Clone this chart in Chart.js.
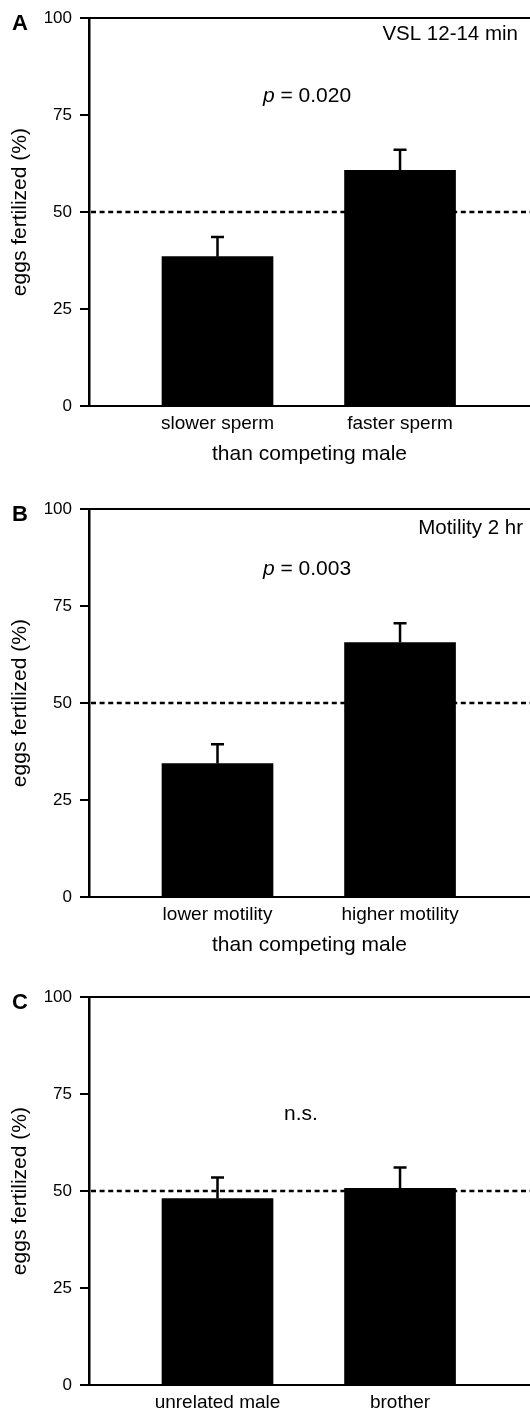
<!DOCTYPE html>
<html>
<head>
<meta charset="utf-8">
<script src="https://cdn.jsdelivr.net/npm/chart.js@4.4.0/dist/chart.umd.min.js"></script>
<style>
  html, body { margin: 0; padding: 0; background: #fff; }
  #wrap { position: relative; width: 530px; height: 1411px; overflow: hidden; }
  canvas { position: absolute; left: 0; }
</style>
</head>
<body>
<div id="wrap">
  <canvas id="panelA" width="530" height="490" style="top:0px"></canvas>
  <canvas id="panelB" width="530" height="490" style="top:491px"></canvas>
  <canvas id="panelC" width="530" height="490" style="top:979px"></canvas>
</div>
<script>
// y axis and reference line
const yTicks = [0, 25, 50, 75, 100];
const chanceLevel = 50;

// panel A
const categoriesA = ['slower sperm', 'faster sperm'];
const meansA = [38.5, 60.8];
const semA = [5.1, 5.3];

// panel B
const categoriesB = ['lower motility', 'higher motility'];
const meansB = [34.4, 65.6];
const semB = [5.0, 5.0];

// panel C
const categoriesC = ['unrelated male', 'brother'];
const meansC = [48.1, 50.7];
const semC = [5.4, 5.4];

const FONT = "'Liberation Sans', Arial, Helvetica, sans-serif";
Chart.defaults.font.family = FONT;
Chart.defaults.color = '#000';

const panels = [
    {id: 'panelA', letter: 'A', categories: categoriesA, means: meansA, sem: semA,
     note: 'VSL 12-14 min', noteX: 518, noteY: 22,
     statItalic: 'p', statText: ' = 0.020', statX: 218, statY: 84,
     xTitle: 'than competing male'},
    {id: 'panelB', letter: 'B', categories: categoriesB, means: meansB, sem: semB,
     note: 'Motility 2 hr', noteX: 523, noteY: 25,
     statItalic: 'p', statText: ' = 0.003', statX: 218, statY: 66,
     xTitle: 'than competing male'},
    {id: 'panelC', letter: 'C', categories: categoriesC, means: meansC, sem: semC,
     note: '', noteX: 0, noteY: 0,
     statItalic: '', statText: 'n.s.', statX: 212, statY: 123,
     xTitle: ''}
];

function makeDecor(p) {
    return {
        id: 'decor' + p.letter,
        beforeDatasetsDraw(chart) {
            const {ctx, chartArea, scales: {y}} = chart;
            const yy = y.getPixelForValue(chanceLevel);
            ctx.save();
            ctx.strokeStyle = '#000';
            ctx.lineWidth = 2.5;
            ctx.setLineDash([5, 3.6]);
            ctx.beginPath();
            ctx.moveTo(chartArea.left + 2, yy);
            ctx.lineTo(chartArea.right, yy);
            ctx.stroke();
            ctx.restore();
        },
        afterDatasetsDraw(chart) {
            const {ctx, chartArea, scales: {x, y}} = chart;
            ctx.save();
            // error bars (upper only)
            ctx.strokeStyle = '#000';
            ctx.lineWidth = 2.5;
            p.means.forEach((m, i) => {
                const px = x.getPixelForValue(i);
                const y0 = y.getPixelForValue(m);
                const y1 = y.getPixelForValue(m + p.sem[i]);
                ctx.beginPath();
                ctx.moveTo(px, y0);
                ctx.lineTo(px, y1);
                ctx.moveTo(px - 6.5, y1);
                ctx.lineTo(px + 6.5, y1);
                ctx.stroke();
            });
            ctx.fillStyle = '#000';
            // panel letter
            ctx.font = 'bold 22px ' + FONT;
            ctx.textAlign = 'left';
            ctx.textBaseline = 'alphabetic';
            ctx.fillText(p.letter, 12, chartArea.top + 12);
            // condition note
            if (p.note) {
                ctx.font = '20.5px ' + FONT;
                ctx.textAlign = 'right';
                ctx.fillText(p.note, p.noteX, chartArea.top + p.noteY);
            }
            // statistics
            ctx.textAlign = 'left';
            ctx.font = 'italic 21px ' + FONT;
            const w1 = ctx.measureText(p.statItalic).width;
            ctx.font = '21px ' + FONT;
            const w2 = ctx.measureText(p.statText).width;
            const sx = chartArea.left + p.statX - (w1 + w2) / 2;
            const sy = chartArea.top + p.statY;
            ctx.font = 'italic 21px ' + FONT;
            ctx.fillText(p.statItalic, sx, sy);
            ctx.font = '21px ' + FONT;
            ctx.fillText(p.statText, sx + w1, sy);
            ctx.restore();
        }
    };
}

panels.forEach((p) => {
    const canvas = document.getElementById(p.id);
    new Chart(canvas, {
        type: 'bar',
        data: {
            datasets: [{
                data: p.categories.map((c, i) => ({x: i, y: p.means[i]})),
                backgroundColor: '#000',
                borderWidth: 0,
                barThickness: 111
            }]
        },
        options: {
            responsive: false,
            animation: false,
            layout: {padding: 0},
            plugins: {
                legend: {display: false},
                tooltip: {enabled: false}
            },
            scales: {
                x: {
                    type: 'linear',
                    position: 'bottom',
                    offset: false,
                    min: -0.704,
                    max: 1.712,
                    grid: {display: false, drawTicks: false, offset: false},
                    border: {display: true, color: '#000', width: 2},
                    afterBuildTicks: (s) => { s.ticks = p.categories.map((c, i) => ({value: i})); },
                    ticks: {
                        callback: (v) => p.categories[v],
                        font: {size: 19},
                        color: '#000',
                        padding: 6,
                        maxRotation: 0,
                        autoSkip: false
                    },
                    title: {
                        display: !!p.xTitle,
                        text: p.xTitle,
                        font: {size: 21},
                        color: '#000',
                        padding: {top: 0, bottom: 23}
                    },
                    afterFit: (s) => { s.height = 84; }
                },
                x2: {
                    type: 'linear',
                    position: 'top',
                    offset: false,
                    grid: {display: false, drawTicks: false},
                    ticks: {display: false},
                    border: {display: true, color: '#000', width: 2},
                    afterFit: (s) => { s.height = 16; }
                },
                y: {
                    type: 'linear',
                    min: 0,
                    max: 100,
                    afterBuildTicks: (s) => { s.ticks = yTicks.map((v) => ({value: v})); },
                    grid: {
                        display: true,
                        drawOnChartArea: false,
                        drawTicks: true,
                        tickLength: 9,
                        color: '#000',
                        lineWidth: 2
                    },
                    border: {display: true, color: '#000', width: 2.5},
                    ticks: {font: {size: 17}, color: '#000', padding: 8},
                    title: {
                        display: true,
                        text: 'eggs fertilized (%)',
                        font: {size: 21},
                        color: '#000',
                        padding: {top: 8, bottom: 0}
                    },
                    afterFit: (s) => { s.width = 89; }
                }
            }
        },
        plugins: [makeDecor(p)]
    });
});
</script>
</body>
</html>
